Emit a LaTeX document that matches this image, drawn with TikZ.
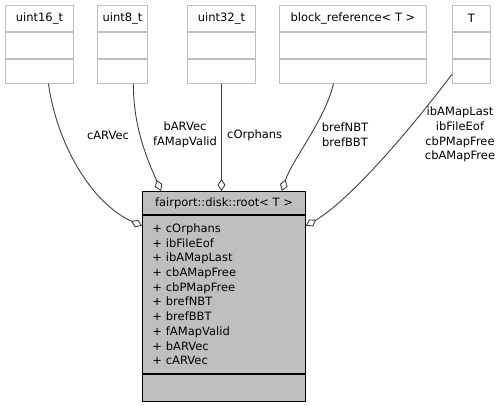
\documentclass[tikz,border=0pt]{standalone}
\usepackage{fontspec}
\setmainfont{DejaVu Sans}
\usepackage{tikz}
\usetikzlibrary{arrows.meta, positioning}
\usepackage{xcolor}

\definecolor{boxgray}{HTML}{BFBFBF}
\definecolor{edgegray}{HTML}{404040}

\tikzset{
    classpart/.style={draw=boxgray, fill=white, line width=0.9pt, inner sep=0pt, minimum width=#1},
    rootpart/.style={draw=black, fill=boxgray, line width=0.9pt, inner sep=0pt, minimum width=163pt},
    member/.style={-{Diamond[length=12pt, width=8pt, fill=white]}, draw=edgegray, line width=0.9pt},
    memberlabel/.style={align=center, inner sep=0pt}
}

\begin{document}
\begin{tikzpicture}[x=1pt, y=-1pt, font=\fontsize{11.5}{14.7}\selectfont]
        \useasboundingbox (0,0) rectangle (503,405);

        % The used classes along the top
        \foreach \name/\x/\w/\txt in {u16/5/68/uint16\_t, u8/97/50/uint8\_t, u32/187/68/uint32\_t,
                bref/279/147/block\_reference< T >, tparam/452/38/T} {
            \node[classpart=\w pt, minimum height=26pt, anchor=north west] (\name-title) at (\x,5) {\txt};
            \node[classpart=\w pt, minimum height=26pt, below=0pt of \name-title] (\name-attr) {};
            \node[classpart=\w pt, minimum height=24pt, below=0pt of \name-attr] (\name-ops) {};
        }

        % The root class
        \node[rootpart, minimum height=23pt, anchor=north west] (root-title) at (142,191) {fairport::disk::root< T >};
        \node[rootpart, minimum height=158pt, below=0pt of root-title, align=left, text width=143pt, inner xsep=10pt] (root-attr)
            {+ cOrphans\\+ ibFileEof\\+ ibAMapLast\\+ cbAMapFree\\+ cbPMapFree\\+ brefNBT\\+ brefBBT\\+ fAMapValid\\+ bARVec\\+ cARVec};
        \node[rootpart, minimum height=27pt, below=0pt of root-attr] (root-ops) {};

        % Drawing the members
        \draw[member] ([xshift=9pt]u16-ops.south) .. controls (58,150) and (95,205) .. ([yshift=-11pt]root-attr.north west);
        \draw[member] ([xshift=11pt]u8-ops.south) .. controls (133,130) and (150,165) .. ([xshift=19pt]root-title.north west);
        \draw[member] (u32-ops.south) -- (u32-ops.south |- root-title.north);
        \draw[member] ([xshift=-19.5pt]bref-ops.south) .. controls (325,120) and (292,160) .. ([xshift=-24pt]root-title.north east);
        \draw[member] ([yshift=-3pt]tparam-ops.west) .. controls (410,130) and (350,200) .. ([yshift=-11pt]root-attr.north east);

        % Labeling the members
        \node[memberlabel] (lbl-u16) at (108,135) {cARVec};
        \node[memberlabel] (lbl-u8) at (185,135) {bARVec\\fAMapValid};
        \node[memberlabel, anchor=west] (lbl-u32) at (227,135) {cOrphans};
        \node[memberlabel] (lbl-bref) at (345,135) {brefNBT\\brefBBT};
        \node[memberlabel] (lbl-tparam) at (460,134.5) {ibAMapLast\\ibFileEof\\cbPMapFree\\cbAMapFree};
    \end{tikzpicture}
\end{document}
